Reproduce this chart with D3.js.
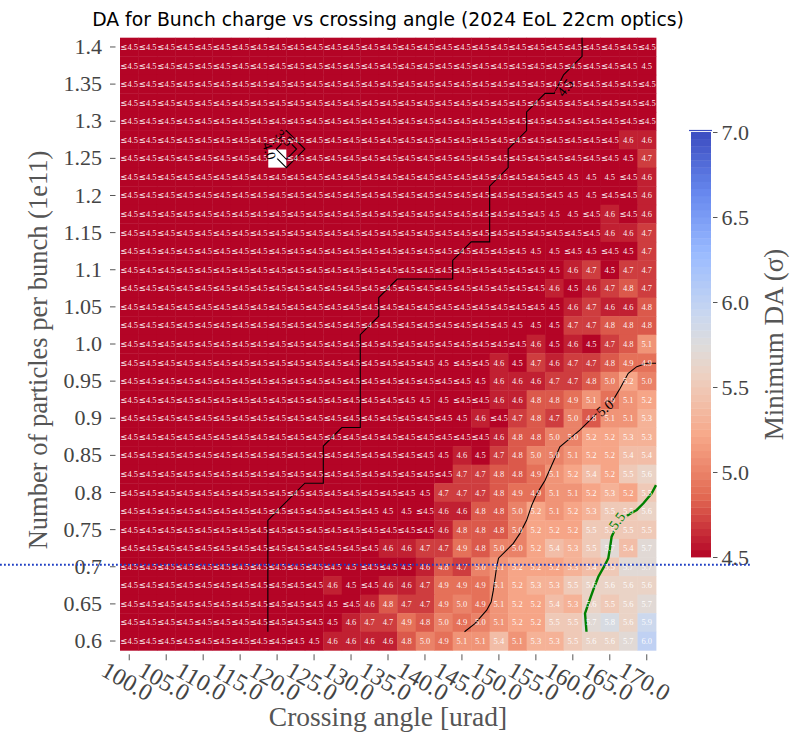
<!DOCTYPE html>
<html>
<head>
<meta charset="utf-8">
<script src="https://cdn.jsdelivr.net/npm/d3@7"></script>
<style>
  body { margin: 0; background: #fff; }
  svg text { font-family: 'Liberation Serif', serif; }
</style>
</head>
<body>
<svg id="chart" width="798" height="734"></svg>
<script>
// crossing angle columns [urad] and bunch charge rows [1e11], top row first
const angles = [100, 102.5, 105, 107.5, 110, 112.5, 115, 117.5, 120, 122.5, 125, 127.5, 130, 132.5, 135,
                137.5, 140, 142.5, 145, 147.5, 150, 152.5, 155, 157.5, 160, 162.5, 165, 167.5, 170];
const charges = [1.4, 1.375, 1.35, 1.325, 1.3, 1.275, 1.25, 1.225, 1.2, 1.175, 1.15, 1.125, 1.1, 1.075, 1.05,
                 1.025, 1.0, 0.975, 0.95, 0.925, 0.9, 0.875, 0.85, 0.825, 0.8, 0.775, 0.75, 0.725, 0.7,
                 0.675, 0.65, 0.625, 0.6];

const xTickAngles = [100, 105, 110, 115, 120, 125, 130, 135, 140, 145, 150, 155, 160, 165, 170];
const xTickLabels = ["100.0", "105.0", "110.0", "115.0", "120.0", "125.0", "130.0", "135.0",
                     "140.0", "145.0", "150.0", "155.0", "160.0", "165.0", "170.0"];
const yTickCharges = [1.4, 1.35, 1.3, 1.25, 1.2, 1.15, 1.1, 1.05, 1.0, 0.95, 0.9, 0.85, 0.8, 0.75, 0.7, 0.65, 0.6];
const yTickLabels = ["1.4", "1.35", "1.3", "1.25", "1.2", "1.15", "1.1", "1.05", "1.0", "0.95",
                     "0.9", "0.85", "0.8", "0.75", "0.7", "0.65", "0.6"];
const cbarTicks = [4.5, 5.0, 5.5, 6.0, 6.5, 7.0];

// minimum DA per cell; L = below 4.5 (shown as "≤4.5"), N = no result, L*n = n cells below 4.5
const minDA = [
  "L*29",
  "L*28 4.5",
  "L*29",
  "L*29",
  "L*29",
  "L*27 4.6 4.6",
  "L*8 N L*18 4.5 4.7",
  "L*24 4.5 4.5 4.5 L 4.6",
  "L*24 4.5 4.5 L L 4.6",
  "L*23 4.5 4.5 L 4.6 L 4.6",
  "L*26 4.6 4.6 4.7",
  "L*22 4.5 4.5 L 4.5 L 4.5 4.7",
  "L*23 4.5 4.6 4.7 4.5 4.7 4.7",
  "L*23 4.6 4.5 4.6 4.7 4.8 4.7",
  "L*23 4.5 4.6 4.7 4.6 4.6 4.8",
  "L*21 4.5 4.5 4.5 4.7 4.7 4.8 4.8 4.8",
  "L*22 4.6 4.5 4.6 4.5 4.7 4.8 5.1",
  "L*17 4.5 L L 4.6 4.5 4.7 4.6 4.7 4.7 4.8 4.9 4.9",
  "L*19 4.5 4.6 4.6 4.6 4.7 4.7 4.8 5.0 5.2 5.0",
  "L*16 4.5 4.5 L L 4.6 4.6 4.8 4.8 4.9 5.1 4.9 5.1 5.2",
  "L*18 4.5 4.6 L 4.7 4.8 4.7 5.0 4.8 5.1 5.1 5.3",
  "L*20 4.6 4.8 4.8 5.0 5.0 5.2 5.2 5.3 5.3",
  "L*17 4.5 4.6 4.5 4.7 4.8 5.0 5.0 5.1 5.2 5.2 5.4 5.4",
  "L*18 4.7 4.7 4.8 4.8 4.9 5.1 5.2 5.4 5.2 5.5 5.6",
  "L*16 4.5 4.7 4.7 4.7 4.8 4.9 4.9 5.1 5.1 5.2 5.3 5.2 5.5",
  "L*14 4.5 4.5 L 4.6 4.6 4.8 4.8 5.0 5.2 5.1 5.2 5.3 5.5 5.5 5.6",
  "L*17 4.6 4.8 4.8 4.8 5.0 5.2 5.2 5.2 5.5 5.5 5.5 5.5",
  "L*14 4.6 4.6 4.7 4.7 4.9 4.8 5.0 5.0 5.2 5.4 5.3 5.5 5.7 5.4 5.7",
  "L*12 4.5 L L 4.5 4.6 4.8 4.7 5.0 5.1 5.2 5.2 5.2 5.3 5.4 5.5 5.7 5.7",
  "L*11 4.6 4.5 L 4.6 4.6 4.7 4.9 4.9 4.9 5.1 5.2 5.3 5.3 5.5 5.6 5.6 5.6 5.6",
  "L*11 4.5 L 4.6 4.8 4.7 4.7 4.9 5.0 4.9 5.1 5.2 5.2 5.4 5.3 5.6 5.5 5.6 5.7",
  "L*11 4.5 4.6 4.7 4.7 4.9 4.8 5.0 4.9 5.0 5.1 5.2 5.2 5.5 5.5 5.7 5.8 5.6 5.9",
  "L*10 4.5 4.6 4.6 4.6 4.6 4.8 5.0 4.9 5.1 5.1 5.4 5.1 5.3 5.3 5.5 5.6 5.6 5.7 6.0"
];

// contour lines, [crossing angle, bunch charge]
const contour35 = [[118.625, 1.25], [120, 1.26375], [121.375, 1.25], [120, 1.23625], [118.625, 1.25]];
const contour40 = [[117.5, 1.25], [120, 1.275], [122.5, 1.25], [120, 1.225], [117.5, 1.25]];
const contour45 = [[117.5, 0.6], [117.5, 0.75], [122.5, 0.8], [125, 0.8], [125, 0.85], [127.5, 0.875],
  [130, 0.875], [130, 1.0], [132.5, 1.025], [132.5, 1.05], [135, 1.075], [142.5, 1.075], [142.5, 1.1],
  [145, 1.125], [147.5, 1.125], [147.5, 1.2], [150, 1.225], [150, 1.25], [152.5, 1.275], [152.5, 1.3],
  [155, 1.325], [156.25, 1.325], [157.5, 1.35], [160, 1.375], [160, 1.4]];
const contour50 = [[144.1, 0.6], [145.5, 0.611], [147.1, 0.629], [147.7, 0.64], [148.0, 0.656],
  [148.2, 0.67], [148.45, 0.6875], [148.7, 0.699], [149.8, 0.71], [150.7, 0.719], [151.6, 0.7325],
  [152.5, 0.75], [153.2, 0.7705], [153.9, 0.786], [155.0, 0.804], [157.0, 0.849], [159.7, 0.8715],
  [162.0, 0.894], [164.2, 0.912], [165.15, 0.928], [166.25, 0.948], [167.4, 0.957], [168.75, 0.9615],
  [170, 0.9615]];
const contour55 = [[160.6, 0.6], [160.4, 0.6248], [160.85, 0.638], [161.5, 0.656], [162.2, 0.674],
  [163.1, 0.69], [163.55, 0.699], [163.8, 0.7145], [164.0, 0.728], [165.0, 0.749], [166.5, 0.759],
  [167.4, 0.764], [168.3, 0.773], [169.4, 0.786], [170, 0.7975]];
// inline contour labels: text, angle, charge, rotation
const contourLabels = [
  { text: "3.5", a: 119.7, q: 1.265, rot: 40, color: "#000" },
  { text: "4.0", a: 117.65, q: 1.2475, rot: 72, color: "#000" },
  { text: "4.5", a: 157.75, q: 1.3325, rot: -52, color: "#000" },
  { text: "5.0", a: 163.1, q: 0.901, rot: -40, color: "#000" },
  { text: "5.5", a: 164.75, q: 0.749, rot: -55, color: "#008000" }
];
const refCharge = 0.7;

function parseRow(s) {
  const out = [];
  s.split(" ").forEach(tok => {
    const m = tok.match(/^L\*(\d+)$/);
    if (m) { for (let i = 0; i < +m[1]; i++) out.push("L"); }
    else if (tok === "L" || tok === "N") out.push(tok);
    else out.push(+tok);
  });
  return out;
}

const grid = minDA.map(parseRow);
const cells = [];
grid.forEach((row, r) => row.forEach((v, c) => cells.push({ a: angles[c], q: charges[r], v: v })));

const svg = d3.select("#chart");
const plotLeft = 120, plotRight = 656, plotTop = 37.7, plotBottom = 650.3;

const x = d3.scaleBand().domain(angles).range([plotLeft, plotRight]);
const y = d3.scaleBand().domain(charges).range([plotTop, plotBottom]);
// contour grid sits on the top-right corner of each cell
const xc = d3.scaleLinear().domain([97.5, 170]).range([plotLeft, plotRight]);
const yc = d3.scaleLinear().domain([1.4, 0.575]).range([plotTop, plotBottom]);

const vmin = 4.5, vmax = 7.0;
const stops = [0, 1 / 7, 2 / 7, 3 / 7, 0.5, 4 / 7, 5 / 7, 6 / 7, 1];
const color = d3.scaleLinear()
  .domain(stops.map(t => vmin + t * (vmax - vmin)))
  .range(["#b40426", "#e26952", "#f7a889", "#edd1c2", "#dddcdc", "#c9d7f0", "#9abbff", "#6788ee", "#3b4cc0"])
  .interpolate(d3.interpolateRgb)
  .clamp(true);

// title
svg.append("text")
  .attr("x", (plotLeft + plotRight) / 2).attr("y", 26)
  .attr("text-anchor", "middle")
  .style("font-family", "'DejaVu Sans', sans-serif")
  .attr("font-size", 18.8)
  .attr("fill", "#000")
  .text("DA for Bunch charge vs crossing angle (2024 EoL 22cm optics)");

// cells
svg.append("g").selectAll("rect")
  .data(cells.filter(d => d.v !== "N"))
  .join("rect")
  .attr("x", d => x(d.a))
  .attr("y", d => y(d.q))
  .attr("width", x.bandwidth() + 0.4)
  .attr("height", y.bandwidth() + 0.4)
  .attr("fill", d => color(d.v === "L" ? vmin : d.v));

// contour lines with gaps under their labels
const defs = svg.append("defs");
const mask = defs.append("mask").attr("id", "labelGaps").attr("maskUnits", "userSpaceOnUse")
  .attr("x", 0).attr("y", 0).attr("width", 798).attr("height", 734);
mask.append("rect").attr("width", 798).attr("height", 734).attr("fill", "#fff");
mask.selectAll("rect.gap")
  .data(contourLabels)
  .join("rect")
  .attr("class", "gap")
  .attr("x", -10).attr("y", -6).attr("width", 20).attr("height", 12)
  .attr("transform", d => `translate(${xc(d.a)},${yc(d.q)}) rotate(${d.rot})`)
  .attr("fill", "#000");

const line = d3.line().x(d => xc(d[0])).y(d => yc(d[1]));
const cg = svg.append("g").attr("mask", "url(#labelGaps)").attr("fill", "none");
[contour35, contour40, contour45, contour50].forEach(pts => {
  cg.append("path").attr("d", line(pts)).attr("stroke", "#000").attr("stroke-width", 1.1);
});
cg.append("path").attr("d", line(contour55)).attr("stroke", "#008000").attr("stroke-width", 2.4);

// annotations (the ≤ sign comes from a wider fallback font, as in the original)
const ann = svg.append("g").selectAll("text")
  .data(cells.filter(d => d.v !== "N"))
  .join("text")
  .attr("x", d => x(d.a) + x.bandwidth() / 2)
  .attr("y", d => y(d.q) + y.bandwidth() / 2)
  .attr("text-anchor", "middle")
  .attr("dominant-baseline", "central")
  .attr("font-size", 8.5)
  .attr("fill", "#fff")
  .attr("fill-opacity", 0.93);
ann.filter(d => d.v === "L").append("tspan")
  .style("font-family", "'DejaVu Sans', sans-serif")
  .text("≤");
ann.append("tspan").text(d => d.v === "L" ? "4.5" : d.v.toFixed(1));

svg.append("g").selectAll("text")
  .data(contourLabels)
  .join("text")
  .attr("transform", d => `translate(${xc(d.a)},${yc(d.q)}) rotate(${d.rot})`)
  .attr("text-anchor", "middle")
  .attr("dominant-baseline", "central")
  .attr("font-size", 14)
  .attr("fill", d => d.color)
  .text(d => d.text);

// y axis
const yAxis = svg.append("g")
  .attr("transform", `translate(${plotLeft - 4.5},0)`)
  .call(d3.axisLeft(y).tickValues(yTickCharges).tickSize(5.5).tickPadding(8)
    .tickFormat((d, i) => yTickLabels[i]));
yAxis.select(".domain").remove();
yAxis.selectAll("line").attr("stroke", "#555");
yAxis.selectAll("text").attr("font-size", 22).attr("fill", "#444");

// x axis
const xAxis = svg.append("g")
  .attr("transform", `translate(0,${plotBottom + 4})`)
  .call(d3.axisBottom(x).tickValues(xTickAngles).tickSize(6)
    .tickFormat((d, i) => xTickLabels[i]));
xAxis.select(".domain").remove();
xAxis.selectAll("line").attr("stroke", "#555");
xAxis.selectAll("text")
  .attr("y", null).attr("dy", null)
  .attr("transform", "translate(-2,27) rotate(30)")
  .attr("text-anchor", "middle")
  .attr("dominant-baseline", "central")
  .attr("font-size", 24).attr("fill", "#444");

// axis titles
svg.append("text")
  .attr("x", (plotLeft + plotRight) / 2).attr("y", 726)
  .attr("text-anchor", "middle")
  .attr("font-size", 27.5).attr("fill", "#555")
  .text("Crossing angle [urad]");
svg.append("text")
  .attr("transform", `translate(47,${(plotTop + plotBottom) / 2 + 6}) rotate(-90)`)
  .attr("text-anchor", "middle")
  .attr("font-size", 26.5).attr("fill", "#555")
  .text("Number of particles per bunch (1e11)");

// colour bar
const cbLeft = 691, cbWidth = 20;
const cbY = d3.scaleLinear().domain([vmin, vmax]).range([557, 132]);
const nBands = 60;
const bandVals = d3.range(nBands).map(i => vmin + (i + 0.5) * (vmax - vmin) / nBands);
svg.append("g").selectAll("rect")
  .data(bandVals)
  .join("rect")
  .attr("x", cbLeft)
  .attr("y", d => cbY(d + (vmax - vmin) / nBands / 2))
  .attr("width", cbWidth)
  .attr("height", (cbY(vmin) - cbY(vmax)) / nBands + 0.4)
  .attr("fill", d => color(d));
svg.append("line")
  .attr("x1", cbLeft - 2).attr("x2", cbLeft + cbWidth + 1)
  .attr("y1", cbY(vmax) - 1.5).attr("y2", cbY(vmax) - 1.5)
  .attr("stroke", "#3b4cc0").attr("stroke-width", 1.2);

const cbAxis = svg.append("g")
  .attr("transform", `translate(${cbLeft + cbWidth + 2},0)`)
  .call(d3.axisRight(cbY).tickValues(cbarTicks).tickSize(4.5).tickPadding(4).tickFormat(d3.format(".1f")));
cbAxis.select(".domain").remove();
cbAxis.selectAll("line").attr("stroke", "#555");
cbAxis.selectAll("text").attr("font-size", 22).attr("fill", "#444");

svg.append("text")
  .attr("transform", `translate(783,${(cbY(vmin) + cbY(vmax)) / 2}) rotate(-90)`)
  .attr("text-anchor", "middle")
  .attr("font-size", 27).attr("fill", "#555")
  .text("Minimum DA (σ)");

// reference line at 0.7e11
svg.append("line")
  .attr("x1", 0).attr("x2", 752)
  .attr("y1", y(refCharge) + y.bandwidth() / 2 - 2)
  .attr("y2", y(refCharge) + y.bandwidth() / 2 - 2)
  .attr("stroke", "#1f3fc4").attr("stroke-width", 1.8)
  .attr("stroke-dasharray", "1.8 2.2");
</script>
</body>
</html>
